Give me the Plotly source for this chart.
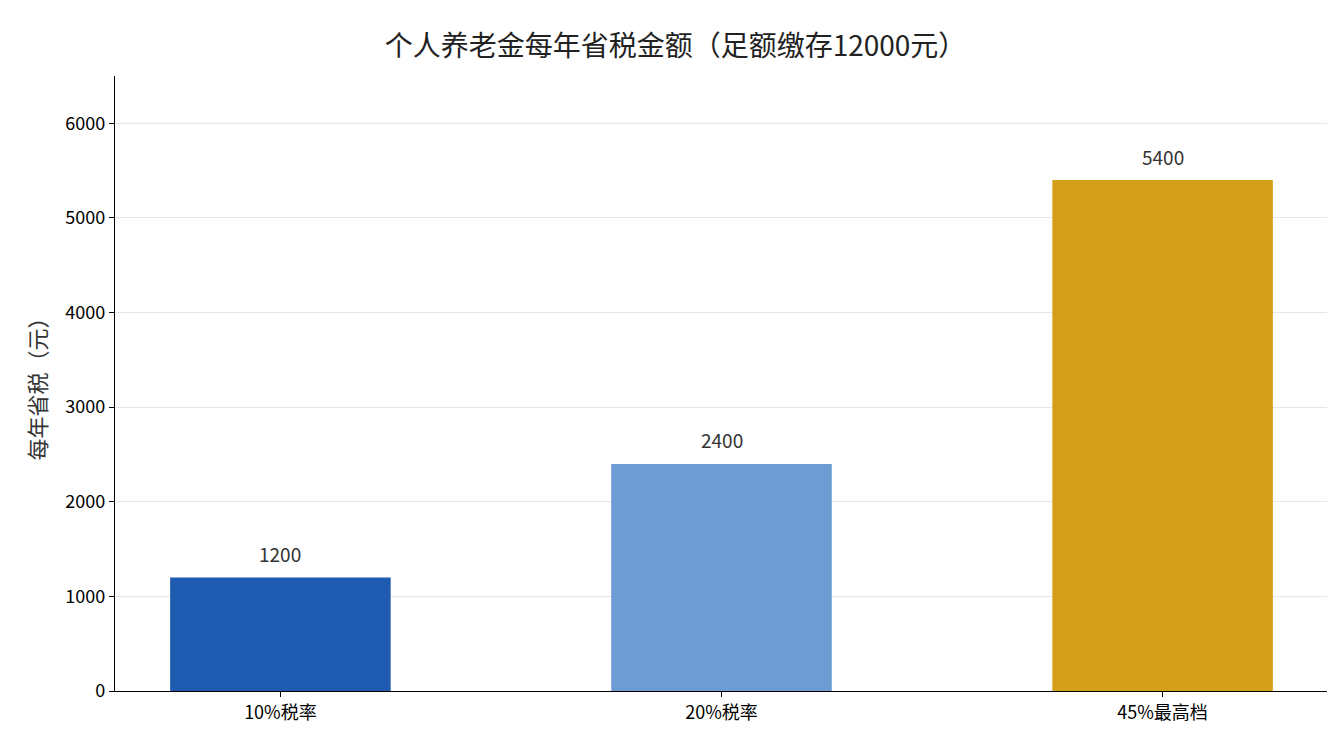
import plotly.graph_objects as go

categories = ["10%税率", "20%税率", "45%最高档"]
savings = [1200, 2400, 5400]
colors = ["#1f5bb0", "#6d9cd3", "#d4a01b"]

fig = go.Figure(go.Bar(
    x=categories, y=savings, width=0.5,
    marker_color=colors, marker_line_width=0,
    text=[str(v) for v in savings], textposition="none",
    hoverinfo="x+y",
))

# value labels a little above each bar
for c, v in zip(categories, savings):
    fig.add_annotation(x=c, y=v, text=str(v), showarrow=False,
                       yshift=24, font=dict(size=19, color="#333333"))

fig.update_layout(
    width=1335, height=735,
    margin=dict(l=107, r=15, t=68, b=52),
    plot_bgcolor="white", paper_bgcolor="white",
    font=dict(family="Noto Sans CJK SC", size=18, color="#000000"),
    title=dict(text="个人养老金每年省税金额（足额缴存12000元）",
               x=0.5, xanchor="center", y=0.962,
               font=dict(size=28, color="#222222")),
    showlegend=False,
)
fig.update_xaxes(range=[-0.375, 2.375], automargin=False,
                 showline=True, linecolor="#000000", linewidth=1.2,
                 ticks="outside", ticklen=5, tickcolor="#000000")
fig.update_yaxes(range=[0, 6500], dtick=1000, automargin=False, showline=True,
                 linecolor="#000000", linewidth=1.2, ticks="outside",
                 ticklen=5, tickcolor="#000000", showgrid=True,
                 gridcolor="rgba(200,200,200,0.45)", gridwidth=1,
                 layer="above traces", zeroline=False,
                 title=dict(text="每年省税（元）", font=dict(size=22, color="#333333"),
                            standoff=12))

fig.write_html("out.html")
